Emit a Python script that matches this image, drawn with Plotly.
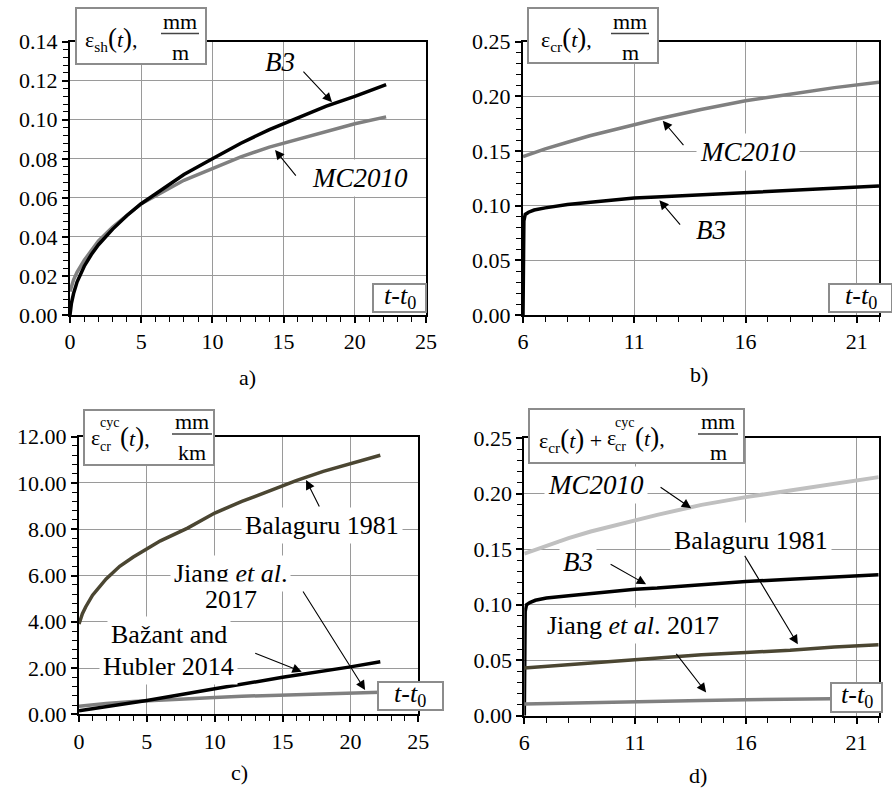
import plotly.graph_objects as go

W, H = 892, 789
FONT = "Liberation Serif"

# ---------------- data ----------------
# a) shrinkage strain eps_sh(t), mm/m
sh_t = [0, 0.1, 0.25, 0.5, 1, 1.5, 2, 3, 4, 5, 6, 7, 8, 10, 12, 14, 16, 18, 20, 22.2]
sh_b3 = [0, 0.006, 0.011, 0.017, 0.025, 0.031, 0.036, 0.044, 0.051, 0.057, 0.062,
         0.067, 0.072, 0.080, 0.088, 0.095, 0.101, 0.107, 0.112, 0.118]
sh_mc2010 = [0.012, 0.015, 0.018, 0.022, 0.028, 0.033, 0.038, 0.045, 0.051, 0.057, 0.061,
             0.065, 0.069, 0.075, 0.081, 0.086, 0.090, 0.094, 0.098, 0.1015]

# b) creep strain eps_cr(t), mm/m
cr_t_b3 = [6.0, 6.04, 6.1, 6.25, 6.5, 7, 8, 9, 10, 11, 12, 14, 16, 18, 20, 22]
cr_b3 = [0, 0.086, 0.092, 0.094, 0.096, 0.098, 0.101, 0.103, 0.105, 0.107, 0.108,
         0.110, 0.112, 0.114, 0.116, 0.118]
cr_t_mc = [6, 7, 8, 9, 10, 11, 12, 14, 16, 18, 20, 22]
cr_mc2010 = [0.145, 0.152, 0.158, 0.164, 0.169, 0.174, 0.179, 0.188, 0.196, 0.202, 0.208, 0.213]

# c) cyclic creep strain eps_cr^cyc(t), mm/km
cyc_t_bal = [0, 0.25, 0.5, 1, 2, 3, 4, 5, 6, 8, 10, 12, 14, 16, 18, 20, 22.2]
cyc_balaguru = [3.9, 4.35, 4.65, 5.15, 5.85, 6.4, 6.8, 7.15, 7.5, 8.05, 8.7, 9.2, 9.65,
                10.1, 10.5, 10.85, 11.2]
cyc_t_bh = [0, 5, 10, 15, 20, 22.2]
cyc_bazant = [0.15, 0.6, 1.1, 1.6, 2.05, 2.27]
cyc_t_jiang = [0, 1, 2, 4, 6, 8, 10, 12, 15, 18, 20, 22.2]
cyc_jiang = [0.35, 0.42, 0.47, 0.55, 0.62, 0.68, 0.73, 0.78, 0.84, 0.89, 0.92, 0.95]

# d) total creep eps_cr(t) + eps_cr^cyc(t), mm/m
tot_t_mc = [6, 7, 8, 9, 10, 11, 12, 14, 16, 18, 20, 22]
tot_mc2010 = [0.146, 0.153, 0.160, 0.166, 0.171, 0.176, 0.181, 0.190, 0.197, 0.203, 0.209, 0.215]
tot_t_b3 = [6.0, 6.04, 6.1, 6.25, 6.5, 7, 8, 9, 10, 11, 12, 14, 16, 18, 20, 22]
tot_b3 = [0, 0.094, 0.100, 0.102, 0.104, 0.106, 0.108, 0.110, 0.112, 0.114, 0.115,
          0.118, 0.121, 0.123, 0.125, 0.127]
tot_t_other = [6, 8, 10, 12, 14, 16, 18, 20, 22]
tot_balaguru = [0.043, 0.046, 0.049, 0.052, 0.055, 0.057, 0.059, 0.062, 0.064]
tot_jiang = [0.0105, 0.0115, 0.0125, 0.0132, 0.0138, 0.0144, 0.0149, 0.0153, 0.0157]

# ---------------- helpers ----------------
def PX(x):
    return x / W


def PY(y):
    return 1 - y / H


BLACK = "#000000"
GRAY = "#808080"
LIGHT = "#c0c0c0"
OLIVE = "#4b4632"
GRID = "#9a9a9a"
BOX = "#8c8c8c"

fig = go.Figure()

panels = {
    # name: (xaxis id, yaxis id, px-left, px-right, px-top, px-bottom, xrange, xdtick, xtick0, yrange, ydtick)
    "a": ("x", "y", 70, 426, 41.7, 315, [0, 25], 5, 0, [0, 0.14], 0.02),
    "b": ("x2", "y2", 523, 879, 41.7, 315, [6, 22], 5, 6, [0, 0.25], 0.05),
    "c": ("x3", "y3", 79, 418.3, 436.7, 714.3, [0, 25], 5, 0, [0, 12], 2),
    "d": ("x4", "y4", 524.3, 878.7, 438.3, 715.7, [6, 22], 5, 6, [0, 0.25], 0.05),
}

tickfont = dict(family=FONT, size=22, color="black")
layout_axes = {}
for key, (xa, ya, l, r, t, b, xr, xd, x0, yr, yd) in panels.items():
    xname = "xaxis" + xa[1:]
    yname = "yaxis" + ya[1:]
    layout_axes[xname] = dict(
        domain=[PX(l), PX(r)], range=xr, anchor=ya, dtick=xd, tick0=x0,
        showgrid=True, gridcolor=GRID, gridwidth=1.3, zeroline=False,
        showline=True, linecolor="black", linewidth=2, mirror=True,
        ticks="outside", ticklen=6, tickwidth=1.5, tickcolor="black",
        minor=dict(dtick=1, tick0=x0, ticks="outside", ticklen=5, tickwidth=1.2,
                   tickcolor="black", showgrid=False),
        tickfont=tickfont, automargin=False, fixedrange=True,
    )
    layout_axes[yname] = dict(
        domain=[PY(b), PY(t)], range=yr, anchor=xa, dtick=yd, tick0=0,
        tickformat=".2f",
        showgrid=True, gridcolor=GRID, gridwidth=1.3, zeroline=False,
        showline=True, linecolor="black", linewidth=2, mirror=True,
        ticks="outside", ticklen=6, tickwidth=1.5, tickcolor="black",
        minor=dict(dtick=yd / 5, tick0=0, ticks="outside", ticklen=5, tickwidth=1.2,
                   tickcolor="black", showgrid=False),
        tickfont=tickfont, automargin=False, fixedrange=True,
    )


def line(x, y, color, width, xa, ya):
    fig.add_trace(go.Scatter(x=x, y=y, mode="lines", xaxis=xa, yaxis=ya,
                             line=dict(color=color, width=width),
                             showlegend=False, hoverinfo="skip"))


# a)
line(sh_t, sh_mc2010, GRAY, 3.5, "x", "y")
line(sh_t, sh_b3, BLACK, 3.5, "x", "y")
# b)
line(cr_t_mc, cr_mc2010, GRAY, 3.5, "x2", "y2")
line(cr_t_b3, cr_b3, BLACK, 3.5, "x2", "y2")
# c)
line(cyc_t_bal, cyc_balaguru, OLIVE, 3.5, "x3", "y3")
line(cyc_t_jiang, cyc_jiang, GRAY, 3.5, "x3", "y3")
line(cyc_t_bh, cyc_bazant, BLACK, 3.5, "x3", "y3")
# d)
line(tot_t_mc, tot_mc2010, LIGHT, 4, "x4", "y4")
line(tot_t_b3, tot_b3, BLACK, 3.5, "x4", "y4")
line(tot_t_other, tot_balaguru, OLIVE, 3.5, "x4", "y4")
line(tot_t_other, tot_jiang, GRAY, 3.5, "x4", "y4")

shapes = []
annotations = []


def text(x, y, s, size=22, bg=None, italic=False):
    if italic:
        s = "<i>" + s + "</i>"
    a = dict(x=PX(x), y=PY(y), xref="paper", yref="paper", text=s, showarrow=False,
             xanchor="center", yanchor="middle", font=dict(family=FONT, size=size, color="black"))
    if bg:
        a.update(bgcolor=bg, borderpad=3)
    annotations.append(a)


def arrow(xd, yd, ax, ay, xa, ya):
    annotations.append(dict(x=xd, y=yd, xref=xa, yref=ya, ax=ax, ay=ay, text="",
                            showarrow=True, arrowhead=2, arrowsize=1.7, arrowwidth=1.1,
                            arrowcolor="black", standoff=0, startstandoff=0))


def box(l, t, r, b):
    shapes.append(dict(type="rect", xref="paper", yref="paper", x0=PX(l), x1=PX(r),
                       y0=PY(b), y1=PY(t), line=dict(color=BOX, width=2),
                       fillcolor="white", layer="above"))


def frac(cx, ly, x0, x1, num, den, top_y, bot_y):
    shapes.append(dict(type="line", xref="paper", yref="paper", x0=PX(x0), x1=PX(x1),
                       y0=PY(ly), y1=PY(ly), line=dict(color="#444444", width=1.3),
                       layer="above"))
    text(cx, top_y, num, size=22)
    text(cx, bot_y, den, size=22)


P = '<span style="font-size:27px">(</span>'
Q = '<span style="font-size:27px">)</span>'
ARG = P + "<i>t</i>" + Q + ","

# quantity boxes
box(76, 8, 206, 64)
text(111, 39, "ε<sub>sh</sub>" + ARG, size=22)
frac(180, 33.5, 161, 199, "mm", "m", 21, 52)

box(528, 8, 658, 63)
text(566, 39, "ε<sub>cr</sub>" + ARG, size=22)
frac(630, 33.5, 611, 649, "mm", "m", 21, 52)

# eps with stacked "cyc" / "cr" indices, built from separate pieces
box(84, 410, 214, 465)
text(95, 437, "ε", size=22)
text(109, 422, "cyc", size=14)
text(105, 446, "cr", size=14)
text(135, 437, ARG, size=22)
frac(192, 434, 172, 212, "mm", "km", 421, 452)

box(529, 409, 744, 463)
text(570, 440, "ε<sub>cr</sub>" + P + "<i>t</i>" + Q + " +", size=22)
text(611, 437, "ε", size=22)
text(624, 422, "cyc", size=14)
text(620, 446, "cr", size=14)
text(650, 437, ARG, size=22)
frac(718, 434, 698, 738, "mm", "m", 421, 452)

# time axis labels
T = "<i>t</i>-<i>t</i><sub>0</sub>"
box(373, 284, 426, 312)
text(400, 297, T, size=26)
box(829, 284, 892, 312)
text(861, 297, T, size=26)
box(378, 682, 443, 710)
text(410, 695, T, size=26)
box(831, 683, 882, 712)
text(857, 696, T, size=26)

# curve labels and leaders
text(280, 62, "B3", size=27, italic=True)
arrow(18.4, 0.109, -30, -32, "x", "y")
text(360, 178, "MC2010", size=27, italic=True, bg="white")
arrow(14.4, 0.0845, 22, 27, "x", "y")

text(748, 152, "MC2010", size=27, italic=True, bg="white")
arrow(12.28, 0.1778, 22, 26, "x2", "y2")
text(711, 230, "B3", size=27, italic=True, bg="white")
arrow(12.13, 0.105, 22, 26, "x2", "y2")

text(322, 525, "Balaguru 1981", size=26, bg="white")
arrow(16.73, 10.13, 14, 28, "x3", "y3")
text(230, 573, "Jiang <i>et al</i>.", size=26, bg="white")
text(231, 599, "2017", size=26, bg="white")
arrow(21.08, 1.05, -63, -100, "x3", "y3")
text(169, 634, "Bažant and", size=26, bg="white")
text(168, 666, "Hubler 2014", size=26, bg="white")
arrow(16.41, 1.84, -48, -19, "x3", "y3")

text(596, 485, "MC2010", size=27, italic=True, bg="white")
arrow(13.53, 0.187, -32, -22, "x4", "y4")
text(578, 562, "B3", size=27, italic=True, bg="white")
arrow(11.5, 0.1184, -37, -21, "x4", "y4")
text(751, 540, "Balaguru 1981", size=26, bg="white")
arrow(18.35, 0.0643, -54, -90, "x4", "y4")
text(633, 625, "Jiang <i>et al</i>. 2017", size=26, bg="white")
arrow(14.21, 0.021, -31, -40, "x4", "y4")

# panel captions
text(247, 377, "a)", size=22)
text(699, 374, "b)", size=22)
text(239, 772, "c)", size=22)
text(698, 775, "d)", size=22)

fig.update_layout(
    width=W, height=H, autosize=False,
    margin=dict(l=0, r=0, t=0, b=0, pad=0),
    paper_bgcolor="white", plot_bgcolor="white",
    showlegend=False, shapes=shapes, annotations=annotations,
    font=dict(family=FONT, color="black"),
    template="none",
    **layout_axes,
)

fig.write_html("out.html")
